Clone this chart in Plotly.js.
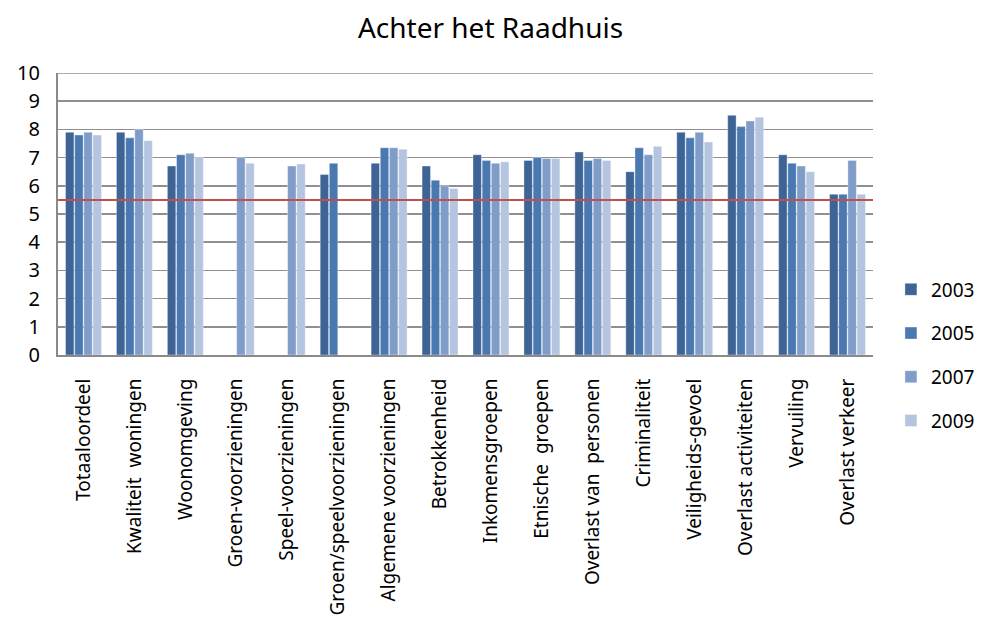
<!DOCTYPE html>
<html>
<head>
<meta charset="utf-8">
<script src="https://cdn.plot.ly/plotly-3.0.1.min.js"></script>
<style>html,body{margin:0;padding:0;background:#fff;}#chart{width:987px;height:636px;}</style>
</head>
<body>
<div id="chart"></div>
<script>
const categories = ["Totaaloordeel", "Kwaliteit  woningen", "Woonomgeving", "Groen-voorzieningen", "Speel-voorzieningen", "Groen/speelvoorzieningen", "Algemene voorzieningen", "Betrokkenheid", "Inkomensgroepen", "Etnische  groepen", "Overlast van  personen", "Criminaliteit", "Veiligheids-gevoel", "Overlast activiteiten", "Vervuiling", "Overlast verkeer"];
const years = ["2003", "2005", "2007", "2009"];
const v2003 = [7.9, 7.9, 6.7, null, null, 6.4, 6.8, 6.7, 7.1, 6.9, 7.2, 6.5, 7.9, 8.5, 7.1, 5.7];
const v2005 = [7.8, 7.7, 7.1, null, null, 6.8, 7.35, 6.2, 6.9, 7.0, 6.9, 7.35, 7.7, 8.1, 6.8, 5.7];
const v2007 = [7.9, 8.0, 7.15, 7.0, 6.7, null, 7.35, 6.0, 6.8, 6.97, 6.97, 7.1, 7.9, 8.3, 6.7, 6.9];
const v2009 = [7.8, 7.6, 7.0, 6.8, 6.77, null, 7.3, 5.9, 6.85, 6.97, 6.9, 7.4, 7.55, 8.43, 6.5, 5.7];
const norm = 5.5;
const seriesValues = [v2003, v2005, v2007, v2009];
const colors = ["#3E6496", "#4A79B1", "#7F9DC8", "#B5C4DF"];

const traces = years.map((y, i) => ({
  type: "bar",
  name: y,
  x: categories,
  y: seriesValues[i],
  legendgroup: y,
  marker: {color: colors[i], line: {color: "rgba(255,255,255,0.6)", width: 0.6}},
  hoverinfo: "x+y+name"
}));

const layout = {
  width: 987, height: 636,
  paper_bgcolor: "#fff", plot_bgcolor: "#fff",
  font: {family: "Noto Sans, Open Sans, sans-serif", color: "#000"},
  title: {text: "Achter het Raadhuis", font: {size: 28, family: "Noto Sans, sans-serif"}, x: 0.497, xanchor: "center", y: 0.955, yanchor: "middle"},
  margin: {l: 58, r: 114, t: 73, b: 281, autoexpand: false},
  barmode: "group",
  bargap: 0.28,
  bargroupgap: 0.08,
  showlegend: true,
  legend: {x: 1.022, xanchor: "left", y: 0.0, yanchor: "middle", font: {size: 19}, tracegroupgap: 16, itemwidth: 30},
  xaxis: {
    type: "category",
    tickangle: -90,
    tickfont: {size: 19},
    showline: true, linecolor: "#8a8a8a", linewidth: 2,
    showgrid: false, ticks: "", ticklen: 0, ticklabelstandoff: 14
  },
  yaxis: {
    range: [0, 10], dtick: 1, tick0: 0,
    tickfont: {size: 20},
    showline: true, linecolor: "#8a8a8a", linewidth: 2,
    showgrid: true, gridcolor: "#8f8f8f", gridwidth: 1.6,
    zeroline: false, ticks: "", ticklabelstandoff: 12
  },
  shapes: [
    {type: "line", xref: "paper", x0: 0, x1: 1, yref: "y", y0: 10, y1: 10, line: {color: "#8f8f8f", width: 1.6}, layer: "below"},
    {type: "line", xref: "paper", x0: 0, x1: 1, yref: "y", y0: norm, y1: norm, line: {color: "#C0504D", width: 2}}
  ]
};

Plotly.newPlot("chart", traces, layout, {displayModeBar: false, staticPlot: true});
</script>
</body>
</html>
